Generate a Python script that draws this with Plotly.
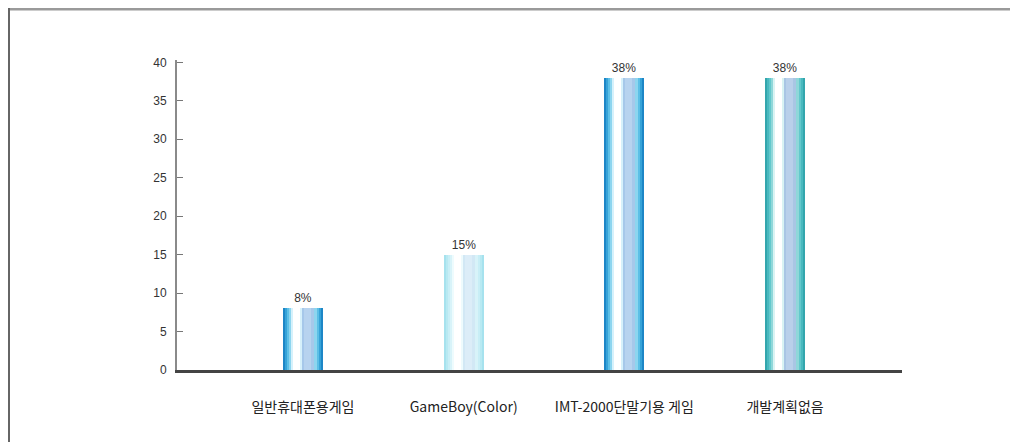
import plotly.graph_objects as go

categories = ["일반휴대폰용게임", "GameBoy(Color)", "IMT-2000단말기용 게임", "개발계획없음"]
values = [8, 15, 38, 38]
value_labels = ["8%", "15%", "38%", "38%"]
y_ticks = [0, 5, 10, 15, 20, 25, 30, 35, 40]

PX = 1 / 160.7  # one pixel in category units

# layered colours per bar to imitate the cylindrical gradient (outer -> inner)
# (left px, right px, colours per bar)
layers = [
    (-20, 20, ["#1d86c6", "#a6e2ee", "#1d86c6", "#33a6ad"]),
    (-18, 18, ["#36a3d8", "#b8e9f2", "#36a3d8", "#49b9bf"]),
    (-16, 16, ["#5cbfe6", "#c8eef6", "#5cbfe6", "#63c8cc"]),
    (-14, 14, ["#8dd5ef", "#d8f3f9", "#8dd5ef", "#8fd7d9"]),
    (-1, 11, ["#a6c8ea", "#d2e8f5", "#a6c8ea", "#a9c6e4"]),
    (1, 8, ["#b7d3ef", "#dcedf8", "#b7d3ef", "#b9d0ea"]),
    (-12, -1, ["#d6f1fb", "#eefbfd", "#d6f1fb", "#d9f3f3"]),
    (-10, -3, ["#ffffff", "#ffffff", "#ffffff", "#ffffff"]),
]

fig = go.Figure()
for i, (lp, rp, cols) in enumerate(layers):
    fig.add_trace(go.Bar(
        x=categories, y=values,
        offset=lp * PX, width=(rp - lp) * PX,
        marker=dict(color=cols, line=dict(width=0)),
        text=value_labels if i == 0 else None,
        textposition="outside" if i == 0 else "none",
        textfont=dict(family="Liberation Sans, Arial", size=12, color="#333333"),
        cliponaxis=False,
        showlegend=False,
        hoverinfo="skip" if i else None,
    ))

# page body has an 8px margin, so the figure is 8px smaller and shifted
W, H = 1010, 434
L, R, T, B = 169, 116, 52, 72
pw, ph = W - L - R, H - T - B

fig.update_layout(
    width=W, height=H,
    barmode="overlay",
    bargap=0,
    plot_bgcolor="white", paper_bgcolor="white",
    margin=dict(l=L, r=R, t=T, b=B),
    xaxis=dict(
        type="category",
        range=[-0.784, 3.728],
        showline=True, linecolor="#444444", linewidth=3,
        ticks="", showgrid=False, zeroline=False,
        tickfont=dict(family="Noto Sans CJK KR", size=14, color="#222222"),
        ticklabelstandoff=22,
    ),
    yaxis=dict(
        range=[0, 40.3],
        tickvals=y_ticks,
        showline=True, linecolor="#8a8a8a", linewidth=2,
        ticks="inside", ticklen=6, tickcolor="#777777", tickwidth=1,
        showgrid=False, zeroline=False,
        tickfont=dict(family="Liberation Sans, Arial", size=12, color="#333333"),
        ticklabelstandoff=6,
    ),
    shapes=[
        dict(type="line", xref="paper", yref="paper",
             x0=(0 - L) / pw, x1=(W - L) / pw,
             y0=(H - B - 1) / ph, y1=(H - B - 1) / ph,
             line=dict(color="#9a9a9a", width=3)),
        dict(type="line", xref="paper", yref="paper",
             x0=(1 - L) / pw, x1=(1 - L) / pw,
             y0=(H - B) / ph, y1=-B / ph,
             line=dict(color="#666666", width=2)),
    ],
)

fig.write_html("out.html")
